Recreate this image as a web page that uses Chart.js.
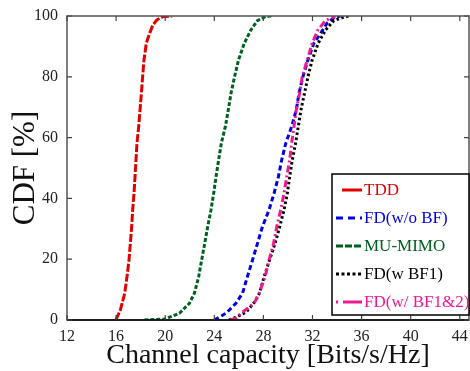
<!DOCTYPE html>
<html lang="en">
<head>
    <meta charset="UTF-8">
    <title>Channel capacity CDF</title>
    <script src="https://cdn.jsdelivr.net/npm/chart.js@4.4.3/dist/chart.umd.min.js"></script>
    <style>
        body { margin: 0; background: #fff; }
        #cdf-chart { display: block; }
    </style>
</head>
<body>
    <canvas id="cdf-chart" width="470" height="371"></canvas>

    <script>
        // Axis ticks
        const xTicks = [12, 16, 20, 24, 28, 32, 36, 40, 44];
        const yTicks = [0, 20, 40, 60, 80, 100];

        // Series labels, in legend order
        const seriesNames = ['TDD', 'FD(w/o BF)', 'MU-MIMO', 'FD(w BF1)', 'FD(w/ BF1&2)'];

        // Channel capacity [Bits/s/Hz] vs CDF [%] for each scheme
        const tddCap = [15.98, 16.35, 16.7, 16.89, 17.05, 17.16, 17.27, 17.35, 17.46, 17.54, 17.62, 17.7, 17.84, 17.95, 18.06, 18.16, 18.27, 18.46, 18.73, 19.0, 19.32, 19.81, 20.57];
        const tddCdf = [0, 3.3, 8.8, 14.3, 19.7, 25.2, 30.7, 36.2, 41.7, 47.1, 52.6, 58.1, 63.6, 69.1, 74.6, 80.0, 85.5, 91.0, 94.3, 97.1, 98.7, 99.8, 100];

        const fdNoBfCap = [24.0, 24.95, 25.76, 26.3, 26.7, 27.11, 27.52, 27.92, 28.46, 28.87, 29.22, 29.49, 29.82, 30.3, 30.68, 30.9, 31.22, 31.63, 32.11, 32.66, 33.2, 33.82, 34.28];
        const fdNoBfCdf = [0, 2.2, 5.5, 8.8, 14.3, 19.7, 25.2, 30.7, 36.2, 41.7, 47.1, 52.6, 58.1, 63.6, 69.1, 74.6, 80.0, 85.5, 91.0, 94.3, 97.7, 99.6, 100];

        const muMimoCap = [18.3, 20.0, 20.4, 21.16, 21.97, 22.38, 22.73, 22.97, 23.22, 23.46, 23.73, 23.95, 24.14, 24.35, 24.57, 24.9, 25.14, 25.36, 25.65, 25.97, 26.44, 26.98, 27.52, 28.2, 28.8];
        const muMimoCdf = [0, 0.3, 1.0, 2.2, 5.5, 8.8, 14.3, 19.7, 25.2, 30.7, 36.2, 41.7, 47.1, 52.6, 58.1, 63.6, 69.1, 74.6, 80.0, 85.5, 91.0, 95.4, 98.5, 99.9, 100];

        const fdBf1Cap = [25.2, 25.6, 26.6, 27.3, 27.7, 28.06, 28.5, 28.95, 29.33, 29.68, 29.95, 30.14, 30.35, 30.62, 30.84, 31.06, 31.35, 31.63, 31.97, 32.46, 33.06, 33.74, 34.68, 35.1];
        const fdBf1Cdf = [0, 0.6, 2.6, 6.0, 9.0, 14.3, 19.7, 25.2, 30.7, 36.2, 41.7, 47.1, 52.6, 58.1, 63.6, 69.1, 74.6, 80.0, 85.5, 91.0, 95.4, 98.5, 99.8, 100];

        const fdBf12Cap = [25.3, 25.76, 26.3, 27.25, 27.65, 28.14, 28.46, 28.83, 29.09, 29.41, 29.68, 29.9, 30.14, 30.3, 30.49, 30.68, 30.95, 31.16, 31.57, 31.97, 32.44, 33.06, 33.87];
        const fdBf12Cdf = [0, 0.6, 2.6, 5.5, 8.8, 14.3, 19.7, 25.2, 30.7, 36.2, 41.7, 47.1, 52.6, 58.1, 63.6, 69.1, 74.6, 80.0, 85.5, 91.0, 95.4, 98.5, 100];

        const serif = "'Liberation Serif', 'DejaVu Serif', serif";

        const toPoints = (xs, ys) => xs.map((x, i) => ({ x: x, y: ys[i] }));

        // colour, dash on the curve, dash in the legend, draw order (lower = on top)
        const styles = [
            { color: '#e00000', dash: [8, 2], legendDash: [], order: 4 },
            { color: '#0000e0', dash: [5, 3], legendDash: [7, 5], order: 3 },
            { color: '#006020', dash: [4, 2], legendDash: [7, 2], order: 2 },
            { color: '#000000', dash: [2.5, 2.5], legendDash: [3, 2.5], order: 1 },
            { color: '#f01890', dash: [7, 3, 2, 3], legendDash: [2, 5, 20, 0], order: 0 }
        ];
        const seriesPoints = [
            toPoints(tddCap, tddCdf),
            toPoints(fdNoBfCap, fdNoBfCdf),
            toPoints(muMimoCap, muMimoCdf),
            toPoints(fdBf1Cap, fdBf1Cdf),
            toPoints(fdBf12Cap, fdBf12Cdf)
        ];

        // Box frame, inward tick marks and the boxed legend
        const framePlugin = {
            id: 'frame',
            afterDatasetsDraw(chart) {
                const { ctx, chartArea: a, scales: { x, y } } = chart;
                ctx.save();
                ctx.lineWidth = 1.5;
                ctx.strokeStyle = '#555';
                ctx.strokeRect(a.left, a.top, a.right - a.left, a.bottom - a.top);
                ctx.strokeStyle = '#000';
                ctx.beginPath();
                ctx.moveTo(a.left, a.bottom);
                ctx.lineTo(a.right, a.bottom);
                ctx.stroke();

                ctx.lineWidth = 1.2;
                ctx.strokeStyle = '#444';
                ctx.beginPath();
                xTicks.forEach(v => {
                    const px = x.getPixelForValue(v);
                    ctx.moveTo(px, a.top); ctx.lineTo(px, a.top + 5);
                    ctx.moveTo(px, a.bottom); ctx.lineTo(px, a.bottom - 5);
                });
                yTicks.forEach(v => {
                    const py = y.getPixelForValue(v);
                    ctx.moveTo(a.left, py); ctx.lineTo(a.left + 5, py);
                    ctx.moveTo(a.right, py); ctx.lineTo(a.right - 5, py);
                });
                ctx.stroke();

                // legend box
                const bx = 332, by = 174, bw = a.right - 332, bh = 141;
                ctx.fillStyle = '#fff';
                ctx.fillRect(bx, by, bw, bh);
                ctx.lineWidth = 1.5;
                ctx.strokeStyle = '#000';
                ctx.strokeRect(bx, by, bw, bh);

                ctx.font = '17px ' + serif;
                ctx.textBaseline = 'middle';
                const rowY = [190, 218, 246, 274, 302];
                seriesNames.forEach((name, i) => {
                    const st = styles[i];
                    ctx.strokeStyle = st.color;
                    ctx.lineWidth = 3;
                    ctx.setLineDash(st.legendDash);
                    ctx.beginPath();
                    ctx.moveTo(i === 0 ? 342 : 336, rowY[i]);
                    ctx.lineTo(362, rowY[i]);
                    ctx.stroke();
                    ctx.setLineDash([]);
                    ctx.fillStyle = st.color;
                    ctx.fillText(name, 364, rowY[i] + 1);
                });
                ctx.restore();
            }
        };

        new Chart(document.getElementById('cdf-chart'), {
            type: 'scatter',
            data: {
                datasets: seriesNames.map((name, i) => ({
                    label: name,
                    data: seriesPoints[i],
                    showLine: true,
                    borderColor: styles[i].color,
                    backgroundColor: styles[i].color,
                    borderWidth: 3,
                    borderDash: styles[i].dash,
                    borderCapStyle: 'butt',
                    pointRadius: 0,
                    tension: 0,
                    order: styles[i].order
                }))
            },
            options: {
                responsive: false,
                animation: false,
                layout: { padding: { left: 0, top: 16, right: 1, bottom: 0 } },
                plugins: {
                    legend: { display: false },
                    tooltip: { enabled: false }
                },
                scales: {
                    x: {
                        type: 'linear',
                        min: 12,
                        max: 44.75,
                        afterFit: s => { s.height = 51; s.paddingLeft = 0; s.paddingRight = 0; },
                        afterBuildTicks: s => { s.ticks = xTicks.map(v => ({ value: v })); },
                        grid: { display: false, drawTicks: false },
                        border: { display: false },
                        ticks: {
                            padding: 7,
                            color: '#222',
                            font: { family: serif, size: 16 }
                        },
                        title: {
                            display: true,
                            text: 'Channel capacity [Bits/s/Hz]',
                            color: '#111',
                            font: { family: serif, size: 28, lineHeight: 1 },
                            padding: { top: 0, bottom: 1 }
                        }
                    },
                    y: {
                        type: 'linear',
                        min: 0,
                        max: 100,
                        afterFit: s => { s.width = 67; s.paddingTop = 0; s.paddingBottom = 0; },
                        afterBuildTicks: s => { s.ticks = yTicks.map(v => ({ value: v })); },
                        grid: { display: false, drawTicks: false },
                        border: { display: false },
                        ticks: {
                            padding: 9,
                            color: '#222',
                            font: { family: serif, size: 16 }
                        },
                        title: {
                            display: true,
                            text: 'CDF [%]',
                            color: '#111',
                            font: { family: serif, size: 31, lineHeight: 1 },
                            padding: { top: 10, bottom: 0 }
                        }
                    }
                }
            },
            plugins: [framePlugin]
        });
    </script>
</body>
</html>
